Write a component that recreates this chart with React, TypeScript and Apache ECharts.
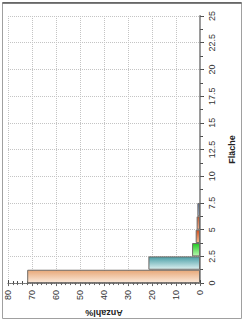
import React, { useEffect, useRef } from "react";
import * as echarts from "echarts";

const binLabels = ["0-1.25", "1.25-2.5", "2.5-3.75", "3.75-5", "5-6.25", "6.25-7.5", "7.5-8.75", "8.75-10", "10-11.25", "11.25-12.5", "12.5-13.75", "13.75-15", "15-16.25", "16.25-17.5", "17.5-18.75", "18.75-20", "20-21.25", "21.25-22.5", "22.5-23.75", "23.75-25"];
const anzahlValues = [72, 21.5, 3.3, 1.8, 1.4, 1.1, 0, 0, 0, 0, 0, 0, 0, 0, 0, 0, 0, 0, 0, 0];
const barColors: [string, string][] = [
  ["#e8a878", "#fbe9da"],
  ["#4a9ea6", "#dcf0f0"],
  ["#22c822", "#b8f8b0"],
  ["#d05020", "#f4b890"],
  ["#c05830", "#f0b090"],
  ["#5070a0", "#b0c0d8"],
];

export default function App() {
  const ref = useRef<HTMLDivElement>(null);
  useEffect(() => {
    document.body.style.margin = "0";
    const chart = echarts.init(ref.current!, undefined, { renderer: "svg" });
    const font = "Liberation Sans";
    const data = anzahlValues.map((v, i) => {
      const c = barColors[i];
      return {
        value: v,
        itemStyle: c
          ? {
              color: new echarts.graphic.LinearGradient(0, 0, 0, 1, [
                { offset: 0, color: c[0] },
                { offset: 1, color: c[1] },
              ]),
              borderColor: "#6e6a66",
              borderWidth: 1,
            }
          : undefined,
      };
    });
    chart.setOption({
      animation: false,
      backgroundColor: "#fff",
      graphic: [
        { type: "rect", shape: { x: 2.5, y: 2.5, width: 239, height: 316 }, style: { fill: "none", stroke: "#a0a0a0", lineWidth: 1 } },
        { type: "line", shape: { x1: 2.5, y1: 3, x2: 241.5, y2: 3 }, style: { stroke: "#555", lineWidth: 1.5 } },
      ],
      grid: { left: 8, right: 39, top: 16, bottom: 33 },
      xAxis: [
        {
          type: "value",
          inverse: true,
          position: "bottom",
          min: 0,
          max: 80,
          interval: 10,
          name: "Anzahl%",
          nameLocation: "middle",
          nameGap: 19,
          nameRotate: 180,
          nameTextStyle: { fontFamily: font, fontSize: 9, fontWeight: "bold", color: "#222" },
          axisLine: { show: true, lineStyle: { color: "#444", width: 1 } },
          axisTick: { show: true, inside: true, length: 3, lineStyle: { color: "#444" } },
          minorTick: { show: true, splitNumber: 5, length: 2, lineStyle: { color: "#444" } },
          axisLabel: { rotate: 90, margin: 7, fontFamily: font, fontSize: 9, color: "#333" },
          splitLine: { show: true, lineStyle: { color: "#c4c4c4", type: "dotted" } },
        },
        {
          type: "value",
          inverse: true,
          position: "top",
          min: 0,
          max: 80,
          interval: 10,
          axisLine: { show: true, lineStyle: { color: "#888", width: 1, type: "dotted" } },
          axisTick: { show: true, inside: true, length: 3, lineStyle: { color: "#666" } },
          minorTick: { show: true, splitNumber: 5, length: 2, lineStyle: { color: "#666" } },
          axisLabel: { show: false },
          splitLine: { show: false },
        },
      ],
      yAxis: [
        {
          type: "value",
          position: "right",
          min: 0,
          max: 25,
          interval: 2.5,
          name: "Fläche",
          nameLocation: "middle",
          nameGap: 27,
          nameRotate: 90,
          nameTextStyle: { fontFamily: font, fontSize: 9, fontWeight: "bold", color: "#222" },
          axisLine: { show: true, lineStyle: { color: "#444", width: 1 } },
          axisTick: { show: true, inside: false, length: 4, lineStyle: { color: "#444" } },
          minorTick: { show: true, splitNumber: 2, length: 3, lineStyle: { color: "#444" } },
          axisLabel: { rotate: 90, margin: 7, fontFamily: font, fontSize: 9, color: "#333" },
          splitLine: { show: true, lineStyle: { color: "#c4c4c4", type: "dotted" } },
        },
        {
          type: "value",
          position: "left",
          min: 0,
          max: 25,
          interval: 2.5,
          axisLine: { show: true, lineStyle: { color: "#9a9a9a", width: 2 } },
          axisTick: { show: true, inside: true, length: 3, lineStyle: { color: "#555" } },
          minorTick: { show: true, splitNumber: 2, length: 2, lineStyle: { color: "#555" } },
          axisLabel: { show: false },
          splitLine: { show: false },
        },
        {
          type: "category",
          data: binLabels,
          show: false,
          position: "right",
        },
      ],
      series: [
        {
          type: "bar",
          xAxisIndex: 0,
          yAxisIndex: 2,
          barWidth: "100%",
          barGap: "0%",
          data,
        },
      ],
    });
    return () => chart.dispose();
  }, []);
  return <div ref={ref} style={{ width: 244, height: 322 }} />;
}
